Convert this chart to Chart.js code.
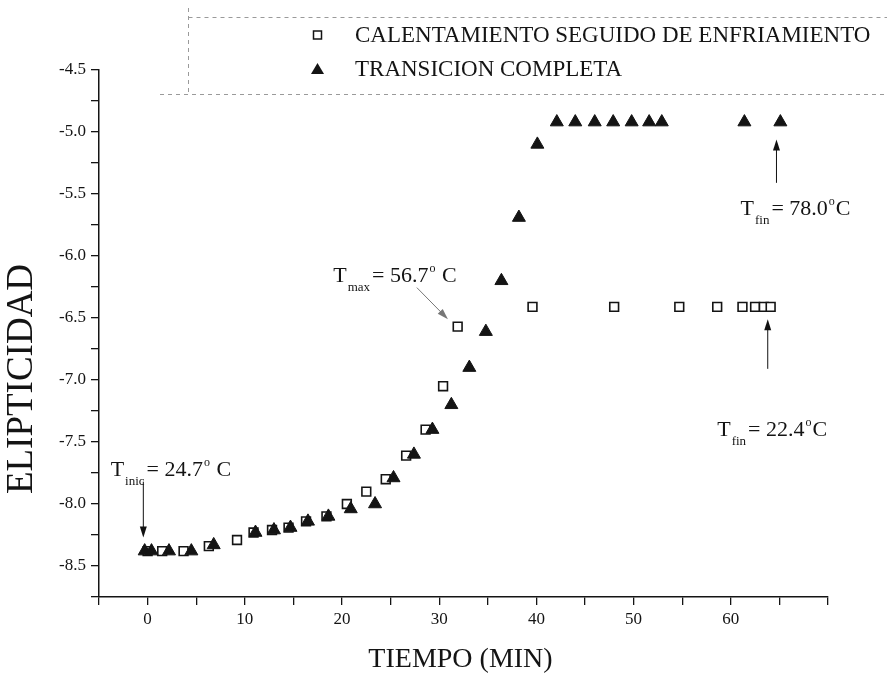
<!DOCTYPE html>
<html>
<head>
<meta charset="utf-8">
<script src="https://cdn.jsdelivr.net/npm/chart.js@4.4.1/dist/chart.umd.min.js"></script>
<style>
  html, body { margin: 0; padding: 0; background: #fff; }
  #wrap { width: 887px; height: 679px; }
</style>
</head>
<body>
<div id="wrap"><canvas id="elip" width="887" height="679"></canvas></div>
<script>
// --- datos ---
const TIEMPO_CAL = [0, 1.5, 3.7, 6.3, 9.2, 10.9, 12.8, 14.5, 16.3, 18.4, 20.5, 22.5, 24.5, 26.6, 28.6, 30.4, 31.9,
                    39.6, 48.0, 54.7, 58.6, 61.2, 62.5, 63.4, 64.1];
const ELIP_CAL   = [-8.38, -8.38, -8.38, -8.34, -8.29, -8.23, -8.21, -8.19, -8.14, -8.10, -8.00, -7.90, -7.80, -7.61, -7.40, -7.05, -6.57,
                    -6.41, -6.41, -6.41, -6.41, -6.41, -6.41, -6.41, -6.41];

const TIEMPO_TRANS = [-0.3, 0.4, 2.2, 4.5, 6.8, 11.1, 13.0, 14.7, 16.5, 18.6, 20.9, 23.4, 25.3, 27.4, 29.3, 31.25, 33.1,
                      34.8, 36.4, 38.2, 40.1, 42.1, 44.0, 46.0, 47.9, 49.8, 51.6, 52.9, 61.4, 65.1];
const ELIP_TRANS   = [-8.38, -8.38, -8.38, -8.38, -8.33, -8.23, -8.21, -8.19, -8.14, -8.10, -8.04, -8.00, -7.79, -7.60, -7.40, -7.20, -6.90,
                      -6.61, -6.20, -5.69, -5.10, -4.92, -4.92, -4.92, -4.92, -4.92, -4.92, -4.92, -4.92, -4.92];

const SERIES_NAMES = ['CALENTAMIENTO SEGUIDO DE ENFRIAMIENTO', 'TRANSICION COMPLETA'];
const X_TICK_LABELS = [0, 10, 20, 30, 40, 50, 60];
const Y_TICK_LABELS = [-4.5, -5.0, -5.5, -6.0, -6.5, -7.0, -7.5, -8.0, -8.5];
const X_TITLE = 'TIEMPO (MIN)';
const Y_TITLE = 'ELIPTICIDAD';

// notas: texto + flecha (en coordenadas de datos)
const NOTES = [
  { sub: 'inic', val: '24.7', gap: ' ', at: [-3.8, -7.776], from: [-0.44, -7.82], to: [-0.44, -8.27], color: '#111' },
  { sub: 'max',  val: '56.7', gap: ' ', at: [19.1, -6.206], from: [27.7, -6.255], to: [30.9, -6.51], color: '#777' },
  { sub: 'fin',  val: '78.0', gap: '',  at: [61.0, -5.667], from: [64.7, -5.41], to: [64.7, -5.06], color: '#111' },
  { sub: 'fin',  val: '22.4', gap: '',  at: [58.6, -7.454], from: [63.8, -6.91], to: [63.8, -6.51], color: '#111' },
];

const INK = '#141414';
const SERIF = "'Liberation Serif', 'Times New Roman', serif";

function toPoints(xs, ys) {
  return xs.map((x, i) => ({ x: x, y: ys[i] }));
}

function drawArrow(ctx, x1, y1, x2, y2, color) {
  const ang = Math.atan2(y2 - y1, x2 - x1);
  const len = 11, half = 3.5;
  ctx.save();
  ctx.strokeStyle = color;
  ctx.fillStyle = color;
  ctx.lineWidth = 1;
  ctx.beginPath();
  ctx.moveTo(x1, y1);
  ctx.lineTo(x2 - Math.cos(ang) * len * 0.8, y2 - Math.sin(ang) * len * 0.8);
  ctx.stroke();
  ctx.beginPath();
  ctx.moveTo(x2, y2);
  ctx.lineTo(x2 - Math.cos(ang) * len - Math.sin(ang) * half, y2 - Math.sin(ang) * len + Math.cos(ang) * half);
  ctx.lineTo(x2 - Math.cos(ang) * len + Math.sin(ang) * half, y2 - Math.sin(ang) * len - Math.cos(ang) * half);
  ctx.closePath();
  ctx.fill();
  ctx.restore();
}

// T_sub = val°C
function drawNote(ctx, x, y, note) {
  ctx.save();
  ctx.fillStyle = INK;
  ctx.textBaseline = 'alphabetic';
  ctx.textAlign = 'left';
  ctx.font = '22px ' + SERIF;
  ctx.fillText('T', x, y);
  x += ctx.measureText('T').width + 1;
  ctx.font = '13px ' + SERIF;
  ctx.fillText(note.sub, x, y + 9);
  x += ctx.measureText(note.sub).width + 2;
  ctx.font = '22px ' + SERIF;
  const main = '= ' + note.val;
  ctx.fillText(main, x, y);
  x += ctx.measureText(main).width + 1;
  ctx.font = '12px ' + SERIF;
  ctx.fillText('o', x, y - 10);
  x += ctx.measureText('o').width + 1;
  ctx.font = '22px ' + SERIF;
  ctx.fillText(note.gap + 'C', x, y);
  ctx.restore();
}

const extras = {
  id: 'extras',
  afterDraw(chart) {
    const ctx = chart.ctx;
    const xs = chart.scales.x, ys = chart.scales.y;

    // recuadro de la leyenda (punteado, como en el original escaneado)
    ctx.save();
    ctx.strokeStyle = '#9a9a9a';
    ctx.lineWidth = 1;
    ctx.setLineDash([4, 4]);
    ctx.beginPath();
    ctx.moveTo(188.5, 17.5); ctx.lineTo(887, 17.5);
    ctx.moveTo(188.5, 8); ctx.lineTo(188.5, 94);
    ctx.moveTo(160, 94.5); ctx.lineTo(887, 94.5);
    ctx.stroke();
    ctx.restore();

    // marcadores y textos de la leyenda
    ctx.save();
    ctx.strokeStyle = INK;
    ctx.lineWidth = 1.5;
    ctx.fillStyle = '#fff';
    ctx.fillRect(313.5, 31, 8, 8);
    ctx.strokeRect(313.5, 31, 8, 8);
    ctx.fillStyle = INK;
    ctx.beginPath();
    ctx.moveTo(317.5, 63); ctx.lineTo(324, 74); ctx.lineTo(311, 74);
    ctx.closePath();
    ctx.fill();
    ctx.font = '23px ' + SERIF;
    ctx.textBaseline = 'middle';
    ctx.fillText(SERIES_NAMES[0], 355, 36);
    ctx.fillText(SERIES_NAMES[1], 355, 70);
    ctx.restore();

    // titulos de ejes
    ctx.save();
    ctx.fillStyle = INK;
    ctx.textAlign = 'center';
    ctx.textBaseline = 'middle';
    ctx.font = '28px ' + SERIF;
    ctx.fillText(X_TITLE, (chart.chartArea.left + chart.chartArea.right) / 2 - 3, 660);
    ctx.translate(22, 379);
    ctx.rotate(-Math.PI / 2);
    ctx.font = '37px ' + SERIF;
    ctx.fillText(Y_TITLE, 0, 0);
    ctx.restore();

    // notas con flechas
    NOTES.forEach((n) => {
      drawArrow(ctx, xs.getPixelForValue(n.from[0]), ys.getPixelForValue(n.from[1]),
                xs.getPixelForValue(n.to[0]), ys.getPixelForValue(n.to[1]), n.color);
      drawNote(ctx, xs.getPixelForValue(n.at[0]), ys.getPixelForValue(n.at[1]), n);
    });
  },
};

const axisStyle = {
  grid: { drawOnChartArea: false, drawTicks: true, tickLength: 8, color: INK, lineWidth: 1.3 },
  border: { display: true, color: INK, width: 1.5 },
};

new Chart(document.getElementById('elip'), {
  type: 'scatter',
  data: {
    datasets: [
      {
        label: SERIES_NAMES[1],
        data: toPoints(TIEMPO_TRANS, ELIP_TRANS),
        pointStyle: 'triangle',
        pointRadius: 7.5,
        backgroundColor: INK,
        borderColor: INK,
        borderWidth: 1,
      },
      {
        label: SERIES_NAMES[0],
        data: toPoints(TIEMPO_CAL, ELIP_CAL),
        pointStyle: 'rect',
        pointRadius: 6.2,
        backgroundColor: '#fff',
        borderColor: INK,
        borderWidth: 1.6,
      },
    ],
  },
  options: {
    responsive: false,
    animation: false,
    events: [],
    devicePixelRatio: 1,
    layout: { padding: { left: 0, right: 59, top: 70, bottom: 0 } },
    plugins: { legend: { display: false }, tooltip: { enabled: false } },
    scales: {
      x: {
        type: 'linear',
        min: -5,
        max: 70,
        ...axisStyle,
        afterFit: (s) => { s.height = 82; },
        ticks: {
          stepSize: 5,
          autoSkip: false,
          maxRotation: 0,
          padding: 4,
          color: INK,
          font: { family: SERIF, size: 17 },
          callback: (v) => (X_TICK_LABELS.includes(v) ? String(v) : ''),
        },
      },
      y: {
        type: 'linear',
        min: -8.75,
        max: -4.5,
        ...axisStyle,
        afterFit: (s) => { s.width = 99; },
        ticks: {
          stepSize: 0.25,
          autoSkip: false,
          padding: 5,
          color: INK,
          font: { family: SERIF, size: 17 },
          callback: (v) => (Y_TICK_LABELS.some((t) => Math.abs(t - v) < 1e-6) ? v.toFixed(1) : ''),
        },
      },
    },
  },
  plugins: [extras],
});
</script>
</body>
</html>
